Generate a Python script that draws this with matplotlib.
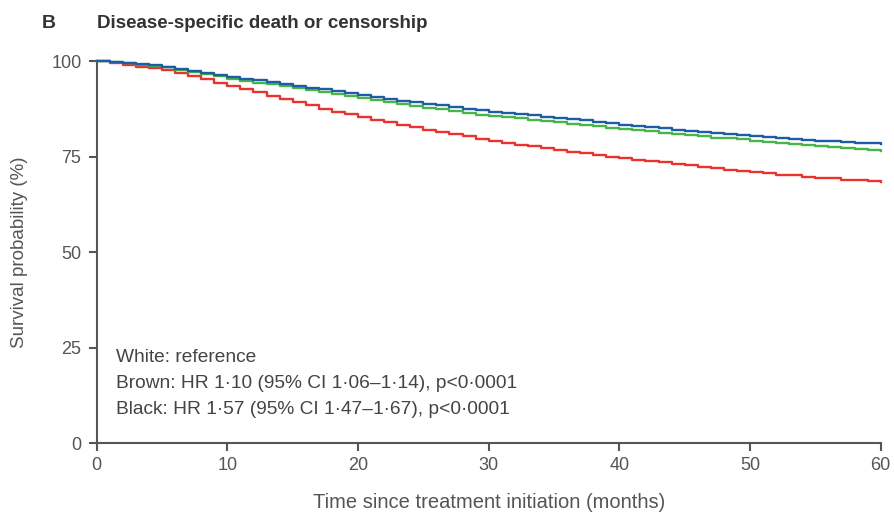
import numpy as np
import matplotlib.pyplot as plt

plt.rcParams['font.family'] = ['Liberation Sans', 'DejaVu Sans']

months = list(range(0, 61))

# survival (%), one value per month
white = [100, 99.8, 99.5, 99.2, 98.9, 98.5,
         98.0, 97.5, 96.9, 96.4, 95.8,
         95.4, 95.0, 94.5, 94.1, 93.6,
         93.1, 92.6, 92.1, 91.6, 91.1,
         90.6, 90.2, 89.7, 89.3, 88.8,
         88.4, 88.0, 87.5, 87.1, 86.7,
         86.4, 86.1, 85.8, 85.5, 85.2,
         84.8, 84.5, 84.1, 83.8, 83.4,
         83.1, 82.8, 82.4, 82.1, 81.8,
         81.5, 81.2, 80.9, 80.6, 80.3,
         80.1, 79.9, 79.6, 79.4, 79.2,
         79.0, 78.8, 78.7, 78.5, 78.3]
brown = [100, 99.8, 99.5, 99.1, 98.8, 98.4,
         97.8, 97.2, 96.6, 96.0, 95.4,
         94.9, 94.4, 93.9, 93.5, 93.0,
         92.5, 91.9, 91.4, 90.8, 90.3,
         89.8, 89.3, 88.8, 88.3, 87.8,
         87.4, 86.9, 86.5, 86.0, 85.6,
         85.3, 85.0, 84.6, 84.3, 84.0,
         83.6, 83.3, 82.9, 82.6, 82.2,
         81.9, 81.6, 81.2, 80.9, 80.6,
         80.3, 80.0, 79.8, 79.5, 79.2,
         78.9, 78.6, 78.4, 78.1, 77.8,
         77.6, 77.3, 77.1, 76.8, 76.6]
black = [100, 99.6, 99.1, 98.6, 98.1, 97.6,
         96.8, 96.0, 95.2, 94.4, 93.6,
         92.7, 91.8, 91.0, 90.1, 89.2,
         88.4, 87.6, 86.8, 86.1, 85.3,
         84.6, 84.0, 83.3, 82.7, 82.0,
         81.4, 80.8, 80.3, 79.7, 79.1,
         78.6, 78.1, 77.7, 77.2, 76.7,
         76.3, 75.9, 75.4, 75.0, 74.6,
         74.2, 73.8, 73.5, 73.1, 72.7,
         72.3, 72.0, 71.6, 71.3, 70.9,
         70.6, 70.3, 70.1, 69.8, 69.5,
         69.3, 69.0, 68.8, 68.5, 68.3]

xticks = [0, 10, 20, 30, 40, 50, 60]
yticks = [0, 25, 50, 75, 100]

notes = ["White: reference",
         "Brown: HR 1\u00b710 (95% CI 1\u00b706\u20131\u00b714), p<0\u00b70001",
         "Black: HR 1\u00b757 (95% CI 1\u00b747\u20131\u00b767), p<0\u00b70001"]

grey = '#555555'

fig = plt.figure(figsize=(8.95, 5.14), dpi=100)
ax = fig.add_axes([0.108, 0.138, 0.876, 0.743])

ax.plot(months, black, drawstyle='steps-post', color='#e8332f', lw=1.7, clip_on=False, zorder=3)
ax.plot(months, brown, drawstyle='steps-post', color='#47b547', lw=1.7, clip_on=False, zorder=4)
ax.plot(months, white, drawstyle='steps-post', color='#1f5ca6', lw=1.7, clip_on=False, zorder=5)

ax.set_xlim(0, 60)
ax.set_ylim(0, 100)
ax.set_xticks(xticks)
ax.set_yticks(yticks)
ax.spines['top'].set_visible(False)
ax.spines['right'].set_visible(False)
for s in ['left', 'bottom']:
    ax.spines[s].set_color(grey)
    ax.spines[s].set_linewidth(1.5)
ax.tick_params(direction='out', length=6, width=1.5, color=grey,
               labelcolor=grey, labelsize=13)
ax.tick_params(axis='x', pad=4)
ax.tick_params(axis='y', pad=5)

ax.set_xlabel('Time since treatment initiation (months)', color=grey, fontsize=14.5, labelpad=14)
ax.set_ylabel('Survival probability (%)', color=grey, fontsize=13.5)
ax.yaxis.set_label_coords(-0.087, 0.5)

for i, t in enumerate(notes):
    ax.text(1.5, 22.5 - i * 6.8, t, color='#444444', fontsize=13.8, va='center')

fig.text(0.047, 0.955, 'B', fontsize=14, fontweight='bold', color='#333333', va='center')
fig.text(0.108, 0.955, 'Disease-specific death or censorship', fontsize=13.5,
         fontweight='bold', color='#333333', va='center')

fig.savefig('out.png', dpi=100)
